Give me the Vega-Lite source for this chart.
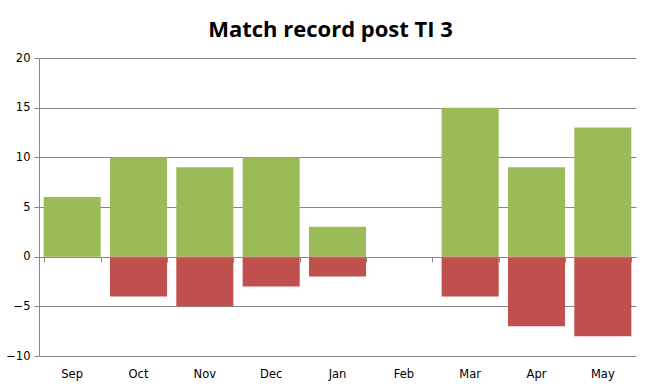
{
  "$schema": "https://vega.github.io/schema/vega-lite/v6.json",
  "width": 597,
  "height": 298,
  "autosize": "none",
  "padding": {"left": 39, "top": 58, "right": 13, "bottom": 35},
  "background": "white",
  "title": {"text": "Match record post TI 3", "font": "Open Sans", "fontSize": 22, "fontWeight": "bold", "color": "black", "offset": 10, "dx": -7},
  "config": {"view": {"stroke": null}},
  "datasets": {
    "results": [
      {"month": "Sep", "result": "Won", "value": 6},
      {"month": "Sep", "result": "Lost", "value": 0},
      {"month": "Oct", "result": "Won", "value": 10},
      {"month": "Oct", "result": "Lost", "value": -4},
      {"month": "Nov", "result": "Won", "value": 9},
      {"month": "Nov", "result": "Lost", "value": -5},
      {"month": "Dec", "result": "Won", "value": 10},
      {"month": "Dec", "result": "Lost", "value": -3},
      {"month": "Jan", "result": "Won", "value": 3},
      {"month": "Jan", "result": "Lost", "value": -2},
      {"month": "Feb", "result": "Won", "value": 0},
      {"month": "Feb", "result": "Lost", "value": 0},
      {"month": "Mar", "result": "Won", "value": 15},
      {"month": "Mar", "result": "Lost", "value": -4},
      {"month": "Apr", "result": "Won", "value": 9},
      {"month": "Apr", "result": "Lost", "value": -7},
      {"month": "May", "result": "Won", "value": 13},
      {"month": "May", "result": "Lost", "value": -8}
    ]
  },
  "resolve": {"axis": {"x": "independent"}},
  "layer": [
    {
      "data": {"name": "results"},
      "mark": {"type": "bar"},
      "encoding": {
        "x": {"field": "month", "type": "nominal", "sort": ["Sep","Oct","Nov","Dec","Jan","Feb","Mar","Apr","May"],
          "scale": {"paddingInner": 0.14, "paddingOuter": 0.07},
          "axis": {"title": null, "domain": false, "ticks": false, "labelAngle": 0, "labelFont": "DejaVu Sans", "labelFontSize": 11.5, "labelColor": "black", "labelPadding": 12}},
        "y": {"field": "value", "type": "quantitative", "stack": null,
          "scale": {"domain": [-10, 20], "nice": false},
          "axis": {"title": null, "values": [-10,-5,0,5,10,15,20], "domain": true, "domainColor": "#868686", "ticks": true, "tickColor": "#868686", "tickSize": 5, "grid": true, "gridColor": "#868686", "labelFont": "DejaVu Sans", "labelFontSize": 11.5, "labelColor": "black", "labelPadding": 4}},
        "color": {"field": "result", "type": "nominal", "scale": {"domain": ["Won","Lost"], "range": ["#9BBB59","#C0504D"]}, "legend": null}
      }
    },
    {
      "data": {"name": "results"},
      "mark": {"type": "rule", "color": "#868686", "opacity": 0},
      "encoding": {
        "x": {"field": "month", "type": "nominal", "sort": ["Sep","Oct","Nov","Dec","Jan","Feb","Mar","Apr","May"],
          "axis": {"title": null, "orient": "bottom", "offset": -99, "labels": false, "domain": true, "domainColor": "#868686", "ticks": true, "tickBand": "extent", "tickColor": "#868686", "tickSize": 5, "zindex": 1}},
        "y": {"datum": 0, "type": "quantitative"}
      }
    }
  ]
}
